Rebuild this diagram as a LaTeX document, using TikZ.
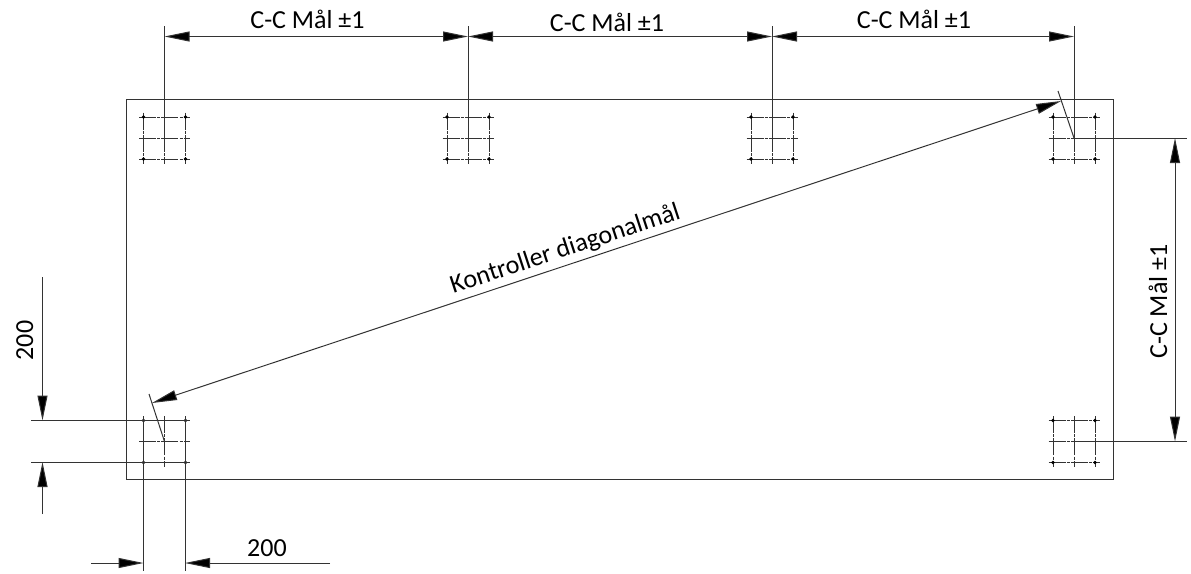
\documentclass[tikz,border=0pt]{standalone}
\usepackage{fontspec}
\setmainfont{Carlito}
\usetikzlibrary{arrows.meta}
\tikzset{
  thin line/.style={line width=1pt,draw=black!80},
  dimline/.style={thin line,{Triangle[length=25pt,width=10pt,fill=black]}-{Triangle[length=25pt,width=10pt,fill=black]}},
  oneway/.style={thin line,-{Triangle[length=25pt,width=10pt,fill=black]}},
  label/.style={font=\fontsize{26}{30}\selectfont,text=black,inner sep=0pt,anchor=base},
  boltline/.style={line width=1pt,draw=black!80,dash pattern=on 17pt off 1.2pt on 3pt off 1.2pt},
  bolt/.pic={
    \draw[boltline] (-25.5,-21) -- (25.5,-21);
    \draw[boltline] (-25.5,0) -- (25.5,0);
    \draw[boltline] (-25.5,21) -- (25.5,21);
    \draw[boltline] (-21,-25.5) -- (-21,25.5);
    \draw[boltline] (0,-25.5) -- (0,25.5);
    \draw[boltline] (21,-25.5) -- (21,25.5);
    \foreach \px in {-21,21} \foreach \py in {-21,21}
      \fill[black] (\px,\py) circle (1.8);
  }
}
\begin{document}
\begin{tikzpicture}[x=1pt,y=-1pt]
\useasboundingbox (0,0) rectangle (1191,573);
\node[draw=black!80,line width=1pt,minimum width=987pt,minimum height=380pt,inner sep=0pt,anchor=north west] (plate) at (126,99) {};
% bolts
\foreach \n/\cx/\cy in {b1/164.5/138,b2/468/138,b3/772/138,b4/1074/138,b5/164.5/441.5,b6/1074/441.5}{
  \coordinate (\n) at (\cx,\cy);
  \pic at (\n) {bolt};
}
% top dimension
\coordinate (e1) at (164.5,26); \coordinate (e2) at (468,26); \coordinate (e3) at (772,26); \coordinate (e4) at (1074,26);
\coordinate (t1) at (164.5,36.5); \coordinate (t2) at (468,36.5); \coordinate (t3) at (772,36.5); \coordinate (t4) at (1074,36.5);
\draw[thin line] (e1) -- (b1) (e2) -- (b2) (e3) -- (b3) (e4) -- (b4);
\draw[dimline] (t1) -- (t2);
\draw[dimline] (t2) -- (t3);
\draw[dimline] (t3) -- (t4);
\node[label] (l1) at (307.5,28) {C-C Mål ±1};
\node[label] (l2) at (607,31) {C-C Mål ±1};
\node[label] (l3) at (914,28) {C-C Mål ±1};
% right dimension
\coordinate (r1) at (1187,138); \coordinate (r2) at (1187,441.5);
\coordinate (r1s) at (1175,138); \coordinate (r2s) at (1175,441.5);
\draw[thin line] (b4) -- (r1) (b6) -- (r2);
\draw[dimline] (r1s) -- (r2s);
\node[label,rotate=90] (l4) at (1167,301.5) {C-C Mål ±1};
% diagonal
\coordinate (d1) at (1061,101); \coordinate (d2) at (152,403);
\coordinate (k1) at (1058,91); \coordinate (k2) at (149,394);
\draw[thin line] (k1) -- (b4) (k2) -- (b5);
\draw[dimline] (d1) -- (d2);
\node[label,rotate=18.2] (l5) at (567.5,256) {Kontroller diagonalmål};
% left 200
\coordinate (h1) at (31,420.5); \coordinate (h2) at (190,420.5);
\coordinate (h3) at (31,462); \coordinate (h4) at (190,462);
\draw[thin line] (h1) -- (h2) (h3) -- (h4);
\coordinate (v1) at (42.5,277); \coordinate (v2) at (42.5,420.5);
\coordinate (v3) at (42.5,514); \coordinate (v4) at (42.5,462);
\draw[oneway] (v1) -- (v2);
\draw[oneway] (v3) -- (v4);
\node[label,rotate=90] (l6) at (33,340.5) {200};
% bottom 200
\coordinate (w1) at (143.5,416); \coordinate (w2) at (143.5,571);
\coordinate (w3) at (185,416); \coordinate (w4) at (185,571);
\draw[thin line] (w1) -- (w2) (w3) -- (w4);
\coordinate (u1) at (91,563); \coordinate (u2) at (143.5,563);
\coordinate (u3) at (330,563); \coordinate (u4) at (185,563);
\draw[oneway] (u1) -- (u2);
\draw[oneway] (u3) -- (u4);
\node[label] (l7) at (267,556) {200};
\end{tikzpicture}
\end{document}
